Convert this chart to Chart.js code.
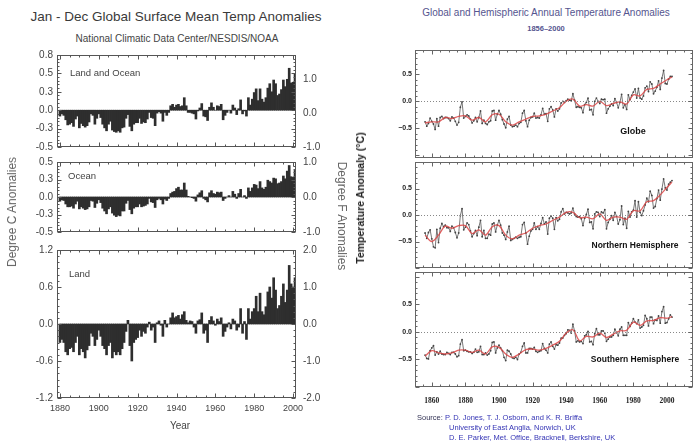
<!DOCTYPE html>
<html>
<head>
<meta charset="utf-8">
<script src="https://cdn.jsdelivr.net/npm/chart.js@4.4.1/dist/chart.umd.min.js"></script>
<style>
  body { margin: 0; background: #fff; width: 699px; height: 444px; overflow: hidden; position: relative; font-family: "Liberation Sans", Arial, sans-serif; }
  canvas { position: absolute; }
  .t { position: absolute; white-space: nowrap; transform: translate(-50%, -50%); }
  .l { position: absolute; white-space: nowrap; transform: translate(0, -50%); }
</style>
</head>
<body>
<canvas id="lo" width="350" height="112" style="left:0;top:45px"></canvas>
<canvas id="oc" width="350" height="90" style="left:0;top:152px"></canvas>
<canvas id="la" width="350" height="204" style="left:0;top:240px"></canvas>
<canvas id="gl" width="349" height="122" style="left:350px;top:40px"></canvas>
<canvas id="nh" width="349" height="120" style="left:350px;top:152px"></canvas>
<canvas id="sh" width="349" height="182" style="left:350px;top:262px"></canvas>

<div class="t" style="left:176px;top:16px;font-size:13.5px;color:#3a3a3a">Jan - Dec Global Surface Mean Temp Anomalies</div>
<div class="t" style="left:177px;top:38px;font-size:10px;color:#444">National Climatic Data Center/NESDIS/NOAA</div>
<div class="l" style="left:70px;top:72px;font-size:9.5px;color:#444">Land and Ocean</div>
<div class="l" style="left:68px;top:175px;font-size:9.5px;color:#444">Ocean</div>
<div class="l" style="left:69px;top:273px;font-size:9.5px;color:#444">Land</div>
<div class="t" style="left:180px;top:425px;font-size:10px;color:#444">Year</div>
<div class="t" style="left:12px;top:212px;font-size:12px;color:#666;transform:translate(-50%,-50%) rotate(-90deg)">Degree C Anomalies</div>
<div class="t" style="left:342px;top:216px;font-size:12px;color:#666;transform:translate(-50%,-50%) rotate(90deg)">Degree F Anomalies</div>

<div class="t" style="left:546px;top:12px;font-size:10px;color:#55558f">Global and Hemispheric Annual Temperature Anomalies</div>
<div class="t" style="left:546px;top:28px;font-size:7.5px;font-weight:bold;color:#55558f;font-family:'Liberation Sans Narrow',sans-serif">1856–2000</div>
<div class="t" style="left:360px;top:198px;font-size:10.5px;font-weight:bold;color:#222;font-family:'Liberation Sans Narrow',sans-serif;transform:translate(-50%,-50%) rotate(-90deg)">Temperature Anomaly (°C)</div>
<div class="t" style="left:633px;top:131px;font-size:9px;font-weight:bold;color:#111">Globe</div>
<div class="t" style="left:635px;top:245px;font-size:8.5px;font-weight:bold;color:#111">Northern Hemisphere</div>
<div class="t" style="left:635px;top:359px;font-size:8.5px;font-weight:bold;color:#111">Southern Hemisphere</div>
<div class="l" style="left:417px;top:417px;font-size:7.5px;color:#3535b5"><span style="color:#333355">Source:</span> P. D. Jones, T. J. Osborn, and K. R. Briffa</div>
<div class="l" style="left:449px;top:427px;font-size:7.5px;color:#3535b5">University of East Anglia, Norwich, UK</div>
<div class="l" style="left:449px;top:437px;font-size:7.5px;color:#3535b5">D. E. Parker, Met. Office, Bracknell, Berkshire, UK</div>

<script>
// NOAA annual anomalies, 1880-2001 (deg C)
const BAR_START_YEAR = 1880;
const LAND_OCEAN = [
  -0.08, -0.05, -0.07, -0.13, -0.20, -0.19, -0.17, -0.22, -0.12, -0.08,
  -0.24, -0.18, -0.21, -0.23, -0.21, -0.16, -0.05, -0.07, -0.19, -0.11,
  -0.05, -0.10, -0.19, -0.24, -0.28, -0.19, -0.15, -0.27, -0.29, -0.30,
  -0.28, -0.30, -0.24, -0.23, -0.11, -0.06, -0.22, -0.28, -0.19, -0.17,
  -0.17, -0.11, -0.18, -0.16, -0.17, -0.12, -0.03, -0.10, -0.11, -0.21,
  -0.04, -0.02, -0.04, -0.15, -0.03, -0.07, -0.03, 0.06, 0.08, 0.04,
  0.07, 0.08, 0.05, 0.06, 0.17, 0.06, -0.03, -0.03, -0.04, -0.05,
  -0.12, -0.01, 0.03, 0.09, -0.08, -0.09, -0.14, 0.04, 0.10, 0.04,
  0.00, 0.06, 0.05, 0.08, -0.13, -0.07, -0.03, 0.00, -0.04, 0.07,
  0.03, -0.06, 0.02, 0.14, -0.05, -0.01, -0.08, 0.17, 0.07, 0.15,
  0.24, 0.29, 0.13, 0.29, 0.15, 0.11, 0.17, 0.30, 0.36, 0.25,
  0.41, 0.36, 0.20, 0.22, 0.28, 0.41, 0.32, 0.42, 0.57, 0.37,
  0.38, 0.49
];
const OCEAN = [
  -0.06, -0.04, -0.05, -0.10, -0.14, -0.14, -0.13, -0.16, -0.10, -0.06,
  -0.17, -0.14, -0.16, -0.18, -0.17, -0.14, -0.05, -0.06, -0.15, -0.09,
  -0.04, -0.08, -0.16, -0.20, -0.24, -0.17, -0.14, -0.23, -0.26, -0.28,
  -0.26, -0.27, -0.20, -0.20, -0.09, -0.05, -0.18, -0.24, -0.16, -0.14,
  -0.14, -0.10, -0.14, -0.13, -0.12, -0.10, -0.02, -0.07, -0.08, -0.15,
  -0.04, -0.02, -0.04, -0.10, -0.03, -0.05, -0.02, 0.05, 0.07, 0.08,
  0.12, 0.14, 0.10, 0.10, 0.20, 0.10, 0.01, 0.00, -0.01, -0.02,
  -0.06, 0.03, 0.06, 0.09, -0.02, -0.04, -0.07, 0.06, 0.09, 0.05,
  0.04, 0.07, 0.06, 0.07, -0.05, -0.02, 0.00, 0.02, 0.00, 0.08,
  0.04, -0.02, 0.05, 0.11, 0.00, 0.02, -0.02, 0.13, 0.08, 0.13,
  0.18, 0.17, 0.12, 0.22, 0.13, 0.11, 0.14, 0.24, 0.22, 0.20,
  0.27, 0.26, 0.19, 0.20, 0.22, 0.30, 0.26, 0.37, 0.45, 0.29,
  0.28, 0.38
];
const LAND = [
  -0.30, -0.25, -0.30, -0.45, -0.50, -0.40, -0.38, -0.45, -0.30, -0.20,
  -0.50, -0.40, -0.45, -0.55, -0.42, -0.35, -0.15, -0.20, -0.35, -0.25,
  -0.10, -0.20, -0.35, -0.40, -0.50, -0.35, -0.30, -0.55, -0.45, -0.50,
  -0.45, -0.50, -0.40, -0.30, -0.12, 0.06, -0.35, -0.60, -0.30, -0.25,
  -0.22, -0.10, -0.20, -0.12, -0.15, -0.05, 0.03, -0.10, -0.05, -0.30,
  0.02, 0.05, -0.02, -0.20, 0.06, -0.05, 0.00, 0.10, 0.18, 0.10,
  0.12, 0.14, 0.08, 0.15, 0.20, 0.06, 0.02, 0.05, 0.04, -0.05,
  -0.15, 0.05, 0.07, 0.18, -0.15, -0.10, -0.30, 0.06, 0.12, 0.05,
  -0.02, 0.08, 0.04, 0.10, -0.20, -0.12, -0.05, 0.02, -0.08, 0.08,
  0.05, -0.10, -0.05, 0.25, -0.15, 0.04, -0.25, 0.25, 0.08, 0.20,
  0.25, 0.45, 0.20, 0.50, 0.20, 0.15, 0.28, 0.52, 0.60, 0.42,
  0.75, 0.55, 0.25, 0.30, 0.45, 0.65, 0.35, 0.55, 0.95, 0.65,
  0.60, 0.75
];
const BAR_YEAR_TICKS = [1880, 1900, 1920, 1940, 1960, 1980, 2000];
const LO_C_TICKS = [-0.5, -0.25, 0, 0.25, 0.5, 0.75];
const LO_F_TICKS = [-1, 0, 1];
const OC_C_TICKS = [-0.5, -0.25, 0, 0.25, 0.5];
const OC_F_TICKS = [-1, 0, 1];
const LA_C_TICKS = [-1.2, -0.6, 0, 0.6, 1.2];
const LA_F_TICKS = [-2, -1, 0, 1, 2];

// CRU / Hadley annual anomalies, 1856-2003 (deg C)
const LINE_START_YEAR = 1856;
const GLOBE = [
  -0.38, -0.46, -0.41, -0.31,
  -0.37, -0.42, -0.52, -0.32, -0.46, -0.30, -0.28, -0.32, -0.30, -0.30,
  -0.32, -0.36, -0.29, -0.31, -0.37, -0.44, -0.39, -0.11, -0.01, -0.31,
  -0.28, -0.25, -0.27, -0.33, -0.40, -0.36, -0.30, -0.38, -0.30, -0.18,
  -0.41, -0.35, -0.41, -0.43, -0.38, -0.36, -0.18, -0.17, -0.35, -0.24,
  -0.17, -0.24, -0.34, -0.42, -0.49, -0.33, -0.28, -0.44, -0.47, -0.46,
  -0.44, -0.47, -0.41, -0.39, -0.22, -0.17, -0.36, -0.47, -0.35, -0.30,
  -0.29, -0.22, -0.31, -0.30, -0.31, -0.25, -0.13, -0.24, -0.23, -0.37,
  -0.14, -0.10, -0.16, -0.29, -0.14, -0.18, -0.14, -0.03, 0.00, -0.02,
  0.01, 0.04, 0.02, 0.01, 0.14, 0.02, -0.11, -0.10, -0.11, -0.12,
  -0.21, -0.06, -0.02, 0.06, -0.16, -0.15, -0.25, 0.00, 0.06, 0.00,
  -0.04, 0.04, 0.03, 0.04, -0.22, -0.14, -0.09, -0.05, -0.08, 0.05,
  -0.02, -0.12, -0.02, 0.13, -0.12, -0.06, -0.15, 0.12, 0.03, 0.11,
  0.17, 0.23, 0.06, 0.24, 0.06, 0.04, 0.10, 0.25, 0.28, 0.18,
  0.36, 0.32, 0.14, 0.19, 0.26, 0.38, 0.22, 0.43, 0.57, 0.33,
  0.32, 0.41, 0.46, 0.46
];
const NORTH = [
  -0.34, -0.44, -0.33, -0.28,
  -0.45, -0.60, -0.62, -0.27, -0.52, -0.25, -0.16, -0.22, -0.19, -0.24,
  -0.24, -0.31, -0.21, -0.24, -0.33, -0.43, -0.34, -0.01, 0.12, -0.28,
  -0.23, -0.15, -0.18, -0.30, -0.41, -0.35, -0.29, -0.39, -0.23, -0.10,
  -0.41, -0.29, -0.44, -0.44, -0.36, -0.38, -0.17, -0.15, -0.32, -0.19,
  -0.10, -0.19, -0.34, -0.38, -0.46, -0.32, -0.21, -0.48, -0.46, -0.44,
  -0.42, -0.44, -0.42, -0.41, -0.18, -0.14, -0.34, -0.55, -0.40, -0.30,
  -0.27, -0.15, -0.27, -0.22, -0.27, -0.16, -0.05, -0.17, -0.13, -0.36,
  -0.06, -0.02, -0.06, -0.27, -0.05, -0.11, -0.08, 0.06, 0.12, 0.02,
  0.05, 0.04, 0.02, 0.04, 0.13, 0.02, -0.03, -0.04, -0.03, -0.07,
  -0.20, -0.06, 0.01, 0.11, -0.14, -0.13, -0.26, 0.02, 0.06, 0.05,
  -0.03, 0.06, 0.04, 0.10, -0.26, -0.14, -0.08, -0.01, -0.10, 0.05,
  -0.02, -0.17, -0.09, 0.17, -0.18, -0.06, -0.25, 0.07, -0.04, 0.06,
  0.09, 0.27, -0.04, 0.25, 0.05, -0.01, 0.08, 0.19, 0.32, 0.25,
  0.45, 0.37, 0.13, 0.16, 0.31, 0.47, 0.28, 0.49, 0.68, 0.51,
  0.47, 0.58, 0.62, 0.65
];
const SOUTH = [
  -0.42, -0.48, -0.49, -0.34,
  -0.29, -0.25, -0.42, -0.36, -0.40, -0.35, -0.40, -0.41, -0.41, -0.37,
  -0.39, -0.41, -0.37, -0.37, -0.40, -0.45, -0.43, -0.22, -0.14, -0.34,
  -0.33, -0.35, -0.36, -0.36, -0.39, -0.37, -0.31, -0.37, -0.36, -0.26,
  -0.41, -0.41, -0.38, -0.42, -0.40, -0.34, -0.19, -0.18, -0.38, -0.29,
  -0.24, -0.29, -0.34, -0.46, -0.52, -0.33, -0.35, -0.40, -0.47, -0.48,
  -0.46, -0.50, -0.40, -0.37, -0.26, -0.20, -0.38, -0.38, -0.30, -0.30,
  -0.31, -0.28, -0.35, -0.37, -0.35, -0.34, -0.21, -0.30, -0.33, -0.38,
  -0.22, -0.18, -0.26, -0.31, -0.23, -0.24, -0.20, -0.11, -0.11, -0.06,
  -0.03, 0.04, 0.03, -0.02, 0.14, 0.02, -0.18, -0.16, -0.18, -0.17,
  -0.21, -0.07, -0.05, 0.01, -0.18, -0.17, -0.23, -0.03, 0.06, -0.05,
  -0.05, 0.02, 0.02, -0.02, -0.17, -0.13, -0.09, -0.09, -0.06, 0.05,
  -0.01, -0.07, 0.05, 0.09, -0.06, -0.06, -0.06, 0.17, 0.10, 0.16,
  0.24, 0.18, 0.15, 0.22, 0.07, 0.09, 0.12, 0.30, 0.24, 0.11,
  0.27, 0.27, 0.15, 0.22, 0.21, 0.29, 0.16, 0.37, 0.46, 0.16,
  0.17, 0.24, 0.31, 0.27
];
const SMOOTH_YEARS = [1856, 1860, 1864, 1868, 1872, 1876, 1880, 1884, 1888, 1892,
  1896, 1900, 1904, 1908, 1912, 1916, 1920, 1924, 1928, 1932, 1936, 1940, 1944,
  1948, 1952, 1956, 1960, 1964, 1968, 1972, 1976, 1980, 1984, 1988, 1992, 1996, 2000, 2003];
const GLOBE_SMOOTH = [-0.40, -0.38, -0.38, -0.30, -0.32, -0.28, -0.27, -0.35, -0.30, -0.38,
  -0.25, -0.24, -0.38, -0.44, -0.38, -0.33, -0.28, -0.27, -0.24, -0.18, -0.12, 0.00, 0.04,
  -0.09, -0.06, -0.09, 0.00, -0.08, -0.04, -0.01, -0.05, 0.12, 0.10, 0.22, 0.24, 0.32, 0.40, 0.45];
const NORTH_SMOOTH = [-0.38, -0.50, -0.38, -0.21, -0.25, -0.20, -0.20, -0.35, -0.28, -0.38,
  -0.22, -0.20, -0.38, -0.45, -0.38, -0.34, -0.25, -0.20, -0.17, -0.10, -0.04, 0.05, 0.05,
  -0.05, -0.04, -0.07, 0.02, -0.10, -0.04, -0.04, -0.08, 0.08, 0.08, 0.25, 0.27, 0.38, 0.52, 0.62];
const SOUTH_SMOOTH = [-0.44, -0.34, -0.38, -0.40, -0.38, -0.33, -0.33, -0.37, -0.33, -0.40,
  -0.27, -0.28, -0.40, -0.46, -0.40, -0.32, -0.31, -0.33, -0.30, -0.24, -0.17, -0.02, 0.04,
  -0.16, -0.08, -0.09, -0.02, -0.10, -0.04, 0.02, 0.03, 0.18, 0.12, 0.20, 0.21, 0.26, 0.25, 0.28];
const LINE_YEAR_TICKS = [1860, 1880, 1900, 1920, 1940, 1960, 1980, 2000];
const ANOM_TICKS = [-0.5, 0, 0.5];

// box round the plot area with small inward tick marks
const frameTicks = {
  id: "frameTicks",
  afterDatasetsDraw(chart, args, o) {
    const { ctx, chartArea: a, scales } = chart;
    const x = scales.x, y = scales.y;
    ctx.save();
    ctx.strokeStyle = o.color;
    ctx.lineWidth = 1;
    if (o.zero) {
      const py = Math.round(y.getPixelForValue(0)) + 0.5;
      ctx.setLineDash([1, 2]);
      ctx.strokeStyle = "#888";
      ctx.beginPath(); ctx.moveTo(a.left, py); ctx.lineTo(a.right, py); ctx.stroke();
      ctx.setLineDash([]);
      ctx.strokeStyle = o.color;
    }
    const L = Math.round(a.left) + 0.5, R = Math.round(a.right) - 0.5;
    const T = Math.round(a.top) + 0.5, B = Math.round(a.bottom) - 0.5;
    ctx.strokeRect(L, T, R - L, B - T);
    ctx.beginPath();
    const n0 = Math.ceil(x.min / o.xMinor - 1e-6);
    for (let i = n0; i * o.xMinor <= x.max + 1e-6; i++) {
      const v = i * o.xMinor;
      const px = Math.round(x.getPixelForValue(v)) + 0.5;
      const len = Math.abs(v / o.xMajor - Math.round(v / o.xMajor)) < 1e-6 ? o.major : o.minor;
      ctx.moveTo(px, T); ctx.lineTo(px, T + len);
      ctx.moveTo(px, B); ctx.lineTo(px, B - len);
    }
    const m0 = Math.ceil(y.min / o.yMinor - 1e-6);
    for (let i = m0; i * o.yMinor <= y.max + 1e-6; i++) {
      const v = i * o.yMinor;
      const py = Math.round(y.getPixelForValue(v)) + 0.5;
      const len = Math.abs(v / o.yMajor - Math.round(v / o.yMajor)) < 1e-6 ? o.major : o.minor;
      ctx.moveTo(L, py); ctx.lineTo(L + len, py);
      ctx.moveTo(R, py); ctx.lineTo(R - len, py);
    }
    ctx.stroke();
    ctx.restore();
  },
};
Chart.register(frameTicks);

function setTicks(values) {
  return (scale) => { scale.ticks = values.map((v) => ({ value: v })); };
}

const noGrid = { display: false, drawTicks: false };

function barPanel(id, values, cRange, cTicks, fRange, fTicks, showYears, yMinor, yMajor) {
  const data = values.map((v, i) => ({ x: BAR_START_YEAR + i, y: v }));
  new Chart(document.getElementById(id), {
    type: "bar",
    data: {
      datasets: [{
        data,
        backgroundColor: "#2e2e2e",
        borderWidth: 0,
        barThickness: 2,
      }],
    },
    options: {
      responsive: false,
      animation: false,
      layout: { padding: { top: 10, bottom: showYears ? 0 : 10, left: 0, right: 0 } },
      plugins: {
        legend: { display: false },
        tooltip: { enabled: false },
        frameTicks: { color: "#555", xMinor: 5, xMajor: 20, yMinor, yMajor, minor: 2, major: 4 },
      },
      scales: {
        x: {
          type: "linear",
          display: showYears,
          min: 1878.5,
          max: 2001.5,
          offset: false,
          grid: noGrid,
          border: { display: false },
          afterBuildTicks: setTicks(BAR_YEAR_TICKS),
          ticks: { callback: (v) => String(v), font: { size: 9, family: "Liberation Sans" }, color: "#444", padding: 5, maxRotation: 0, autoSkip: false },
          afterFit: (s) => { s.height = showYears ? 46 : 0; s.paddingLeft = 0; s.paddingRight = 0; },
        },
        y: {
          position: "left",
          min: cRange[0],
          max: cRange[1],
          grid: noGrid,
          border: { display: false },
          afterBuildTicks: setTicks(cTicks),
          ticks: { callback: (v) => v.toFixed(1), font: { size: 10, family: "Liberation Sans" }, color: "#444", padding: 4 },
          afterFit: (s) => { s.width = 57; s.paddingTop = 0; s.paddingBottom = 0; },
        },
        y2: {
          position: "right",
          min: fRange[0],
          max: fRange[1],
          grid: noGrid,
          border: { display: false },
          afterBuildTicks: setTicks(fTicks),
          ticks: { callback: (v) => v.toFixed(1), font: { size: 10, family: "Liberation Sans" }, color: "#444", padding: 7 },
          afterFit: (s) => { s.width = 54; s.paddingTop = 0; s.paddingBottom = 0; },
        },
      },
    },
  });
}

function linePanel(id, values, smooth, yRange, topPad, showYears) {
  const data = values.map((v, i) => ({ x: LINE_START_YEAR + i, y: v }));
  const smoothData = SMOOTH_YEARS.map((yr, i) => ({ x: yr, y: smooth[i] }));
  new Chart(document.getElementById(id), {
    type: "line",
    data: {
      datasets: [
        {
          data: smoothData,
          borderColor: "rgba(220, 70, 70, 0.85)",
          borderWidth: 1.3,
          pointRadius: 0,
          tension: 0.35,
          order: 0,
        },
        {
          data,
          borderColor: "#555",
          borderWidth: 0.8,
          pointRadius: 0.9,
          pointBackgroundColor: "#444",
          pointBorderWidth: 0,
          tension: 0,
          order: 1,
        },
      ],
    },
    options: {
      responsive: false,
      animation: false,
      layout: { padding: { top: topPad, bottom: 0, left: 0, right: 6 } },
      plugins: {
        legend: { display: false },
        tooltip: { enabled: false },
        frameTicks: { color: "#666", zero: true, xMinor: 5, xMajor: 20, yMinor: 0.1, yMajor: 0.5, minor: 2, major: 4 },
      },
      scales: {
        x: {
          type: "linear",
          display: showYears,
          min: 1850,
          max: 2015.5,
          grid: noGrid,
          border: { display: false },
          afterBuildTicks: setTicks(LINE_YEAR_TICKS),
          ticks: { callback: (v) => String(v), font: { size: 7.5, weight: "bold", family: "Liberation Sans Narrow" }, color: "#222", padding: 10, maxRotation: 0, autoSkip: false },
          afterFit: (s) => { s.height = showYears ? 57 : 0; s.paddingLeft = 0; s.paddingRight = 0; },
        },
        y: {
          min: yRange[0],
          max: yRange[1],
          grid: noGrid,
          border: { display: false },
          afterBuildTicks: setTicks(ANOM_TICKS),
          ticks: {
            callback: (v) => v.toFixed(1).replace("-", "\u2212"),
            font: { size: 7, weight: "bold", family: "Liberation Sans" },
            color: "#222",
            padding: 3,
          },
          afterFit: (s) => { s.width = 65; s.paddingTop = 0; s.paddingBottom = 0; },
        },
      },
    },
  });
}

barPanel("lo", LAND_OCEAN, [-0.5, 0.75], LO_C_TICKS, [-1.0, 1.7], LO_F_TICKS, false, 0.05, 0.25);
barPanel("oc", OCEAN, [-0.5, 0.5], OC_C_TICKS, [-1.0, 1.0], OC_F_TICKS, false, 0.05, 0.25);
barPanel("la", LAND, [-1.2, 1.2], LA_C_TICKS, [-2.0, 2.0], LA_F_TICKS, true, 0.1, 0.6);

linePanel("gl", GLOBE, GLOBE_SMOOTH, [-1.05, 0.95], 10, false);
linePanel("nh", NORTH, NORTH_SMOOTH, [-1.0, 1.0], 10, false);
linePanel("sh", SOUTH, SOUTH_SMOOTH, [-1.0, 1.09], 10, true);
</script>
</body>
</html>
